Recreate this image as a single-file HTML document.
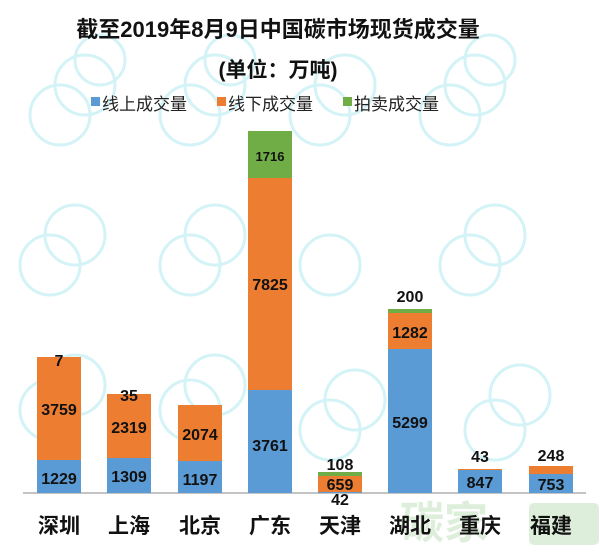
<!DOCTYPE html><html><head><meta charset="utf-8"><style>
body{margin:0;background:#fff;width:604px;height:549px;overflow:hidden}
text{font-family:"Liberation Sans","Noto Sans CJK SC",sans-serif}
</style></head><body>
<svg width="604" height="549" viewBox="0 0 604 549" xmlns="http://www.w3.org/2000/svg">
<g fill="none" stroke="#d3f3f7" stroke-width="3">
<circle cx="60" cy="115" r="30"/><circle cx="85" cy="85" r="30"/><circle cx="100" cy="60" r="25"/>
<circle cx="190" cy="115" r="30"/><circle cx="215" cy="85" r="30"/><circle cx="230" cy="60" r="25"/>
<circle cx="320" cy="115" r="30"/><circle cx="345" cy="85" r="30"/>
<circle cx="450" cy="115" r="30"/><circle cx="475" cy="85" r="30"/><circle cx="490" cy="60" r="25"/>
<circle cx="50" cy="265" r="30"/><circle cx="75" cy="235" r="30"/><circle cx="190" cy="265" r="30"/><circle cx="215" cy="235" r="30"/>
<circle cx="330" cy="265" r="30"/><circle cx="470" cy="265" r="30"/><circle cx="495" cy="235" r="30"/>
<circle cx="50" cy="410" r="30"/><circle cx="75" cy="385" r="30"/><circle cx="190" cy="410" r="30"/><circle cx="215" cy="385" r="30"/>
<circle cx="330" cy="430" r="30"/><circle cx="355" cy="400" r="30"/><circle cx="495" cy="430" r="30"/><circle cx="520" cy="395" r="30"/>
</g>
<text x="278" y="37" font-size="22" font-weight="bold" text-anchor="middle" fill="#111">截至2019年8月9日中国碳市场现货成交量</text>
<text x="278" y="77" font-size="21" font-weight="bold" text-anchor="middle" fill="#111">(单位：万吨)</text>
<rect x="91" y="97" width="9" height="9" fill="#5b9bd5"/><text x="102" y="110" font-size="17" fill="#222">线上成交量</text>
<rect x="217" y="97" width="9" height="9" fill="#ed7d31"/><text x="228" y="110" font-size="17" fill="#222">线下成交量</text>
<rect x="343" y="97" width="9" height="9" fill="#70ad47"/><text x="354" y="110" font-size="17" fill="#222">拍卖成交量</text>
<line x1="23" y1="493" x2="586" y2="493" stroke="#888" stroke-width="1"/>
<g>
<rect x="37" y="460" width="44" height="33" fill="#5b9bd5"/><rect x="37" y="357" width="44" height="103" fill="#ed7d31"/>
<rect x="107" y="458" width="44" height="35" fill="#5b9bd5"/><rect x="107" y="394" width="44" height="64" fill="#ed7d31"/>
<rect x="178" y="461" width="44" height="32" fill="#5b9bd5"/><rect x="178" y="405" width="44" height="56" fill="#ed7d31"/>
<rect x="248" y="390" width="44" height="103" fill="#5b9bd5"/><rect x="248" y="178" width="44" height="212" fill="#ed7d31"/><rect x="248" y="131" width="44" height="47" fill="#70ad47"/>
<rect x="318" y="492" width="44" height="1" fill="#5b9bd5"/><rect x="318" y="476" width="44" height="16" fill="#ed7d31"/><rect x="318" y="472" width="44" height="4" fill="#70ad47"/>
<rect x="388" y="349" width="44" height="144" fill="#5b9bd5"/><rect x="388" y="313" width="44" height="36" fill="#ed7d31"/><rect x="388" y="309" width="44" height="4" fill="#70ad47"/>
<rect x="458" y="470" width="44" height="23" fill="#5b9bd5"/><rect x="458" y="469" width="44" height="1" fill="#ed7d31"/>
<rect x="529" y="474" width="44" height="19" fill="#5b9bd5"/><rect x="529" y="466" width="44" height="8" fill="#ed7d31"/>
</g>
<g font-size="16" font-weight="bold" text-anchor="middle" fill="#111">
<text x="59" y="484">1229</text><text x="59" y="415">3759</text><text x="59" y="366">7</text>
<text x="129" y="482">1309</text><text x="129" y="433">2319</text><text x="129" y="401">35</text>
<text x="200" y="485">1197</text><text x="200" y="440">2074</text>
<text x="270" y="451">3761</text><text x="270" y="290">7825</text><text x="270" y="161" font-size="13">1716</text>
<text x="340" y="470">108</text><text x="340" y="490">659</text><text x="340" y="505">42</text>
<text x="410" y="428">5299</text><text x="410" y="338">1282</text><text x="410" y="302">200</text>
<text x="480" y="488">847</text><text x="480" y="462">43</text>
<text x="551" y="490">753</text><text x="551" y="461">248</text>
</g>
<text x="400" y="538" font-size="44" font-weight="bold" fill="#cfe8cb" opacity="0.7">碳家</text>
<rect x="529" y="503" width="70" height="42" rx="5" fill="#a9d6a3" opacity="0.4"/>
<g font-size="21" font-weight="bold" text-anchor="middle" fill="#111">
<text x="59" y="533">深圳</text><text x="129" y="533">上海</text><text x="200" y="533">北京</text><text x="270" y="533">广东</text>
<text x="340" y="533">天津</text><text x="410" y="533">湖北</text><text x="480" y="533">重庆</text><text x="551" y="533">福建</text>
</g>
</svg>
</body></html>
